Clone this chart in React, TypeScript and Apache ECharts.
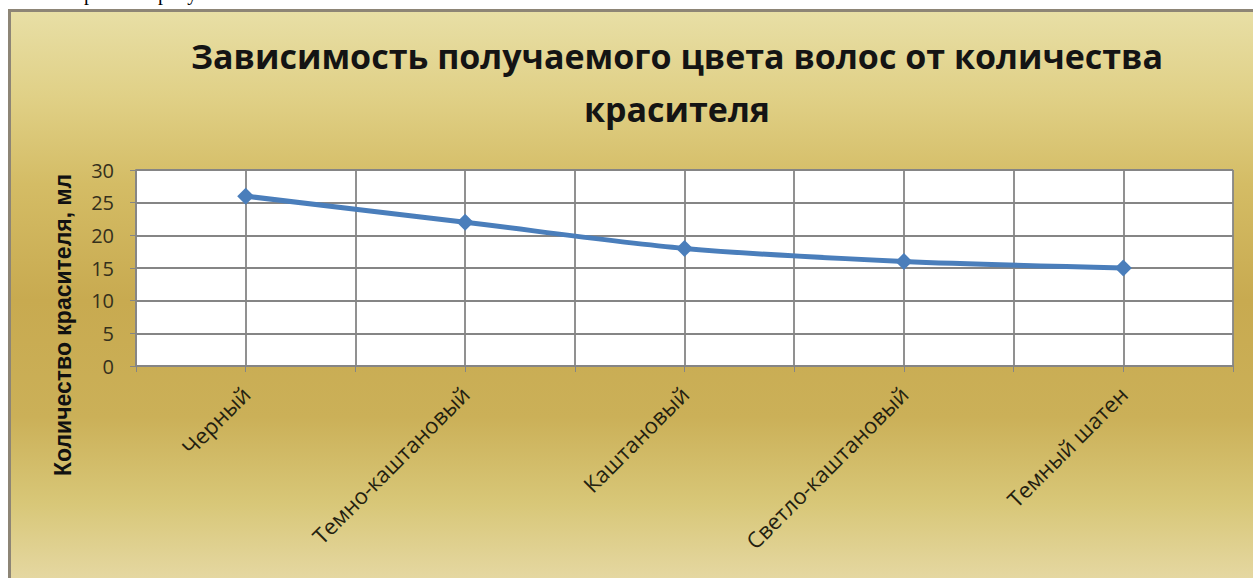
import React, { useEffect, useRef } from "react";
import * as echarts from "echarts";

const categories = ["Черный", "Темно-каштановый", "Каштановый", "Светло-каштановый", "Темный шатен"];
const dyeAmount = [26, 22, 18, 16, 15];
const yTicks = { min: 0, max: 30, interval: 5 };
const titleText = "Зависимость получаемого цвета волос от количества\nкрасителя";
const yAxisTitle = "Количество красителя, мл";

export default function App() {
  const ref = useRef<HTMLDivElement>(null);
  useEffect(() => {
    const chart = echarts.init(ref.current!, null, { renderer: "svg" });
    const gridLine = { color: "#858585", width: 1.8 };
    chart.setOption({
      animation: false,
      backgroundColor: "#ffffff",
      grid: { left: 136, right: 20, top: 170, bottom: 212, show: true, backgroundColor: "#ffffff", borderWidth: 0 },
      graphic: [
        {
          type: "rect",
          z: -10,
          shape: { x: 9.5, y: 10.5, width: 1260, height: 580 },
          style: {
            fill: new echarts.graphic.LinearGradient(0, 0, 0, 1, [
              { offset: 0, color: "#e8dfa6" },
              { offset: 0.15, color: "#e0d086" },
              { offset: 0.3, color: "#d4bc65" },
              { offset: 0.5, color: "#c8aa50" },
              { offset: 0.7, color: "#cbb058" },
              { offset: 0.85, color: "#d8c778" },
              { offset: 1, color: "#e7daa8" },
            ]),
            stroke: "#8d8576",
            lineWidth: 3,
          },
          silent: true,
        },
        { type: "text", style: { text: "р", x: 84, y: 3, font: "20px 'Liberation Serif'", fill: "#000", verticalAlign: "bottom" } },
        { type: "text", style: { text: "рисунке", x: 158, y: 3, font: "20px 'Liberation Serif'", fill: "#000", verticalAlign: "bottom" } },
        {
          type: "text",
          style: {
            text: titleText,
            x: 677,
            y: 82,
            align: "center",
            verticalAlign: "middle",
            font: "bold 34px 'Open Sans'",
            lineHeight: 53,
            fill: "#141414",
          },
        },
        {
          type: "text",
          x: 63,
          y: 325,
          rotation: Math.PI / 2,
          style: {
            text: yAxisTitle,
            x: 0,
            y: 0,
            align: "center",
            verticalAlign: "middle",
            font: "bold 23px 'Liberation Sans'",
            fill: "#111",
          },
        },
      ],
      xAxis: [
        {
          type: "category",
          data: categories,
          boundaryGap: true,
          position: "bottom",
          axisLine: { show: false },
          axisTick: { show: false },
          splitLine: { show: false },
          axisLabel: { rotate: 45, margin: 24, fontSize: 22, fontFamily: "Open Sans", color: "#241f10" },
        },
        {
          type: "value",
          min: 0,
          max: 10,
          interval: 1,
          position: "bottom",
          axisLine: { show: true, lineStyle: { color: "#858585", width: 1.8 } },
          axisTick: { show: true, length: 6, lineStyle: { color: "#858585" } },
          axisLabel: { show: false },
          splitLine: { show: true, lineStyle: gridLine },
        },
      ],
      yAxis: {
        type: "value",
        min: yTicks.min,
        max: yTicks.max,
        interval: yTicks.interval,
        axisLine: { show: true, lineStyle: { color: "#858585", width: 1.8 } },
        axisTick: { show: true, length: 6, lineStyle: { color: "#858585" } },
        axisLabel: { fontSize: 20, fontFamily: "Open Sans", color: "#35301c", margin: 22 },
        splitLine: { show: true, lineStyle: gridLine },
      },
      series: [
        {
          type: "line",
          xAxisIndex: 0,
          data: dyeAmount,
          smooth: 0.3,
          symbol: "diamond",
          symbolSize: 17,
          lineStyle: { color: "#4a7ebb", width: 5 },
          itemStyle: { color: "#4a7ebb" },
        },
      ],
    });
    return () => chart.dispose();
  }, []);
  return <div ref={ref} style={{ position: "fixed", left: 0, top: 0, width: 1253, height: 578 }} />;
}
